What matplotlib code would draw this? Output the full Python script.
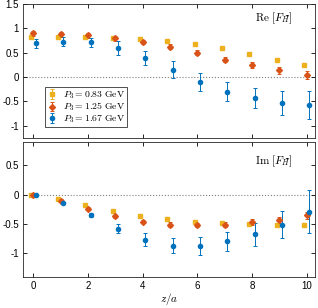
import matplotlib
matplotlib.use("Agg")
import matplotlib.pyplot as plt
import numpy as np

plt.rcParams['font.family'] = ['Liberation Sans', 'DejaVu Sans']
plt.rcParams['mathtext.fontset'] = 'cm'
plt.rcParams['axes.unicode_minus'] = False
plt.rcParams['font.size'] = 7

z = np.arange(0, 11)
labels = [r'$P_3 = 0.83\ \mathrm{GeV}$', r'$P_3 = 1.25\ \mathrm{GeV}$', r'$P_3 = 1.67\ \mathrm{GeV}$']
colors = ['#EDB120', '#D95319', '#0072BD']
markers = ['s', 'D', 'o']
shifts = [-0.1, 0.0, 0.1]

# real part
re_083 = [0.82, 0.82, 0.82, 0.81, 0.79, 0.74, 0.68, 0.59, 0.48, 0.36, 0.24]
re_083_err = [0.03, 0.03, 0.03, 0.03, 0.03, 0.03, 0.03, 0.03, 0.03, 0.03, 0.03]
re_125 = [0.90, 0.88, 0.86, 0.80, 0.72, 0.62, 0.50, 0.36, 0.24, 0.14, 0.05]
re_125_err = [0.05, 0.05, 0.05, 0.05, 0.05, 0.05, 0.05, 0.05, 0.06, 0.07, 0.08]
re_167 = [0.69, 0.73, 0.71, 0.60, 0.39, 0.15, -0.10, -0.30, -0.43, -0.53, -0.58]
re_167_err = [0.10, 0.10, 0.09, 0.14, 0.15, 0.17, 0.18, 0.19, 0.21, 0.24, 0.29]

# imaginary part
im_083 = [0.0, -0.07, -0.18, -0.28, -0.37, -0.42, -0.46, -0.49, -0.50, -0.51, -0.52]
im_083_err = [0.01, 0.01, 0.02, 0.02, 0.02, 0.03, 0.03, 0.03, 0.03, 0.03, 0.03]
im_125 = [0.0, -0.10, -0.24, -0.37, -0.46, -0.51, -0.52, -0.51, -0.47, -0.43, -0.35]
im_125_err = [0.01, 0.02, 0.03, 0.03, 0.03, 0.04, 0.04, 0.04, 0.05, 0.05, 0.06]
im_167 = [0.0, -0.14, -0.35, -0.58, -0.77, -0.87, -0.88, -0.80, -0.68, -0.51, -0.29]
im_167_err = [0.01, 0.02, 0.04, 0.08, 0.11, 0.13, 0.15, 0.17, 0.20, 0.23, 0.37]

re_vals = [(re_083, re_083_err), (re_125, re_125_err), (re_167, re_167_err)]
im_vals = [(im_083, im_083_err), (im_125, im_125_err), (im_167, im_167_err)]

fig = plt.figure(figsize=(3.18, 3.08), dpi=100)
ax1 = fig.add_axes([0.072, 0.552, 0.918, 0.435])
ax2 = fig.add_axes([0.072, 0.102, 0.918, 0.437])

for ax, vals in [(ax1, re_vals), (ax2, im_vals)]:
    ax.axhline(0, color='0.5', ls=':', lw=0.8, zorder=0)
    for (y, e), c, m, s, lab in zip(vals, colors, markers, shifts, labels):
        ax.errorbar(z + s, y, yerr=e, fmt=m, color=c, ms=3.0, elinewidth=0.7,
                    capsize=1.2, capthick=0.7, label=lab)
    ax.set_xlim(-0.38, 10.3)
    ax.set_xticks([0, 2, 4, 6, 8, 10])
    ax.tick_params(direction='in', top=True, right=True, length=3, width=0.6,
                   labelsize=7, pad=3)
    for sp in ax.spines.values():
        sp.set_linewidth(0.6)
        sp.set_color('0.15')

ax1.set_ylim(-1.25, 1.5)
ax1.set_yticks([-1, -0.5, 0, 0.5, 1, 1.5])
ax1.set_yticklabels(['-1', '-0.5', '0', '0.5', '1', '1.5'])
ax1.set_xticklabels([])
ax1.text(0.86, 0.89, r'$\mathrm{Re}\ [F_{\widetilde{H}}]$', transform=ax1.transAxes,
         ha='center', va='center', fontsize=8)
leg = ax1.legend(loc='lower left', bbox_to_anchor=(0.06, 0.045), fontsize=7,
                 frameon=True, fancybox=False, edgecolor='k', handlelength=1.0,
                 handletextpad=0.6, borderpad=0.2, labelspacing=0.0,
                 handleheight=0.6)
leg.get_frame().set_linewidth(0.6)

ax2.set_ylim(-1.4, 0.9)
ax2.set_yticks([-1, -0.5, 0, 0.5])
ax2.set_yticklabels(['-1', '-0.5', '0', '0.5'])
ax2.set_xticklabels(['0', '2', '4', '6', '8', '10'])
ax2.text(0.86, 0.86, r'$\mathrm{Im}\ [F_{\widetilde{H}}]$', transform=ax2.transAxes,
         ha='center', va='center', fontsize=8)
ax2.set_xlabel('$z/a$', fontsize=8, labelpad=0)

fig.savefig('out.png', dpi=100)
